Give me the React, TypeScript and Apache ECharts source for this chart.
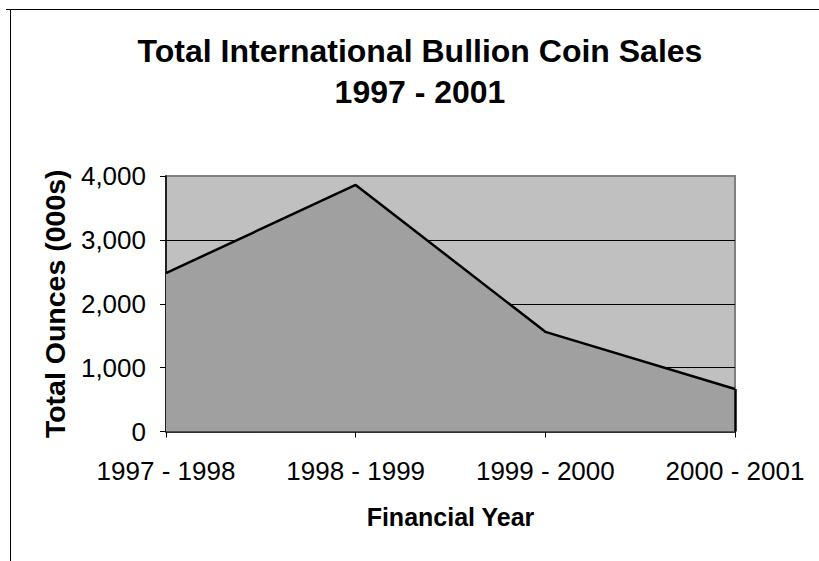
import React, { useEffect, useRef } from "react";
import * as echarts from "echarts";

const categories = ["1997 - 1998", "1998 - 1999", "1999 - 2000", "2000 - 2001"];
const ounces = [2480, 3860, 1560, 665];
const yTicks = { min: 0, max: 4000, interval: 1000 };
const titleLines = ["Total International Bullion Coin Sales", "1997 - 2001"];
const xTitle = "Financial Year";
const yTitle = "Total Ounces (000s)";

const FONT = "'Liberation Sans', Arial, sans-serif";

export default function App() {
  const ref = useRef<HTMLDivElement>(null);
  useEffect(() => {
    if (!ref.current) return;
    const chart = echarts.init(ref.current, undefined, { renderer: "svg" });
    const last = categories.length - 1;
    chart.setOption({
      animation: false,
      backgroundColor: "#ffffff",
      textStyle: { fontFamily: FONT },
      title: {
        text: titleLines.join("\n"),
        left: 420,
        top: 30,
        textAlign: "center",
        padding: 0,
        textStyle: {
          fontFamily: FONT,
          fontSize: 32,
          fontWeight: "bold",
          color: "#000",
          lineHeight: 41,
        },
      },
      graphic: [
        { type: "line", shape: { x1: 6, y1: 9.5, x2: 819, y2: 9.5 }, style: { stroke: "#000", lineWidth: 1 } },
        { type: "line", shape: { x1: 10.5, y1: 9, x2: 10.5, y2: 561 }, style: { stroke: "#000", lineWidth: 1 } },
      ],
      grid: {
        left: 166,
        top: 176,
        right: 84,
        bottom: 129.5,
        show: true,
        backgroundColor: "#C0C0C0",
        borderColor: "#808080",
        borderWidth: 2,
      },
      xAxis: {
        type: "category",
        data: categories,
        boundaryGap: false,
        axisLine: { lineStyle: { color: "#000", width: 1.5 } },
        axisTick: { show: true, length: 6, lineStyle: { color: "#000" }, alignWithLabel: true },
        axisLabel: { fontSize: 26, color: "#000", margin: 26, fontFamily: FONT, interval: 0 },
        splitLine: { show: false },
        name: xTitle,
        nameLocation: "middle",
        nameGap: 73,
        nameTextStyle: { fontSize: 25, fontWeight: "bold", color: "#000", fontFamily: FONT },
      },
      yAxis: {
        type: "value",
        min: yTicks.min,
        max: yTicks.max,
        interval: yTicks.interval,
        axisLine: { show: true, lineStyle: { color: "#000", width: 1.5 } },
        axisTick: { show: true, length: 6, lineStyle: { color: "#000" } },
        axisLabel: {
          fontSize: 26,
          color: "#000",
          margin: 20,
          fontFamily: FONT,
          formatter: (v: number) => v.toLocaleString("en-US"),
        },
        splitLine: {
          show: true,
          lineStyle: { color: ["#000", "#000", "#000", "#000", "#808080"], width: 1 },
        },
        name: yTitle,
        nameLocation: "middle",
        nameGap: 97,
        nameRotate: 90,
        nameTextStyle: { fontSize: 28.5, fontWeight: "bold", color: "#000", fontFamily: FONT },
      },
      series: [
        {
          type: "line",
          data: ounces,
          symbol: "none",
          lineStyle: { color: "#000", width: 2.5 },
          areaStyle: { color: "#A0A0A0", opacity: 1 },
          markLine: {
            silent: true,
            symbol: "none",
            label: { show: false },
            lineStyle: { color: "#000", width: 2.5, type: "solid" },
            data: [
              [
                { coord: [last, 0] },
                { coord: [last, ounces[last]] },
              ],
            ],
          },
        },
      ],
    });
    return () => chart.dispose();
  }, []);
  return (
    <div
      ref={ref}
      style={{ position: "fixed", left: 0, top: 0, width: 819, height: 561 }}
    />
  );
}
